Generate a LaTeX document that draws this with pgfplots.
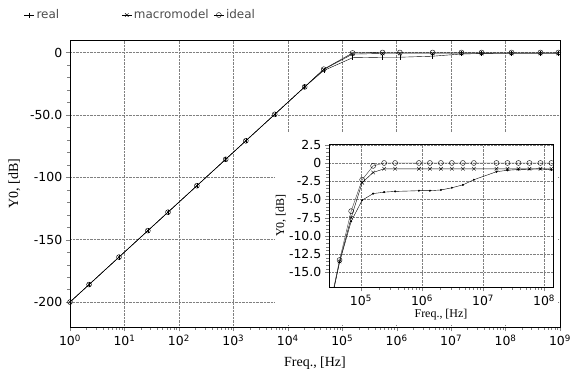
\documentclass[border=0pt]{standalone}
\usepackage{fontspec}
\setmainfont{Liberation Serif}
\newfontfamily\dv{DejaVu Sans}
\usepackage{pgfplots}
\pgfplotsset{compat=1.18}
\newcommand\pw[1]{10\textsuperscript{#1}}

\begin{document}
\begin{tikzpicture}
\useasboundingbox (0bp,0bp) rectangle (571bp,374bp);
\begin{semilogxaxis}[
  at={(70bp,47bp)}, anchor=south west, scale only axis,
  width=490bp, height=287bp,
  xmin=1, xmax=1e9, ymin=-220, ymax=10,
  xtick={1,10,100,1000,1e4,1e5,1e6,1e7,1e8,1e9},
  xticklabels={\pw{0},\pw{1},\pw{2},\pw{3},\pw{4},\pw{5},\pw{6},\pw{7},\pw{8},\pw{9}},
  ytick={-200,-150,-100,-50,0},
  yticklabels={-200,-150,-100,-50.0,0},
  minor y tick num=4,
  tick align=outside, xtick pos=left, ytick pos=left,
  grid=major, major grid style={gray, densely dotted},
  ticklabel style={font=\dv\fontsize{12.5}{14}\selectfont},
  xlabel={Freq., [Hz]}, ylabel={Y0, [dB]},
  label style={font=\fontsize{14}{16}\selectfont},
  xlabel style={yshift=-4bp},
  ylabel style={yshift=3bp},
  legend columns=3,
  legend image code/.code={\draw[mark repeat=2,mark phase=2,#1] plot coordinates {(0bp,0bp) (5bp,0bp) (10bp,0bp)};},
  legend style={at={(-0.1,1.087)}, anchor=west, draw=none, fill=none,
    font=\dv\fontsize{12}{14}\selectfont, text=gray!60!black,
    /tikz/every even column/.append style={column sep=3bp}},
]
\addplot[black, mark=|, mark size=2.5] coordinates {
(1,-200) (2.24,-186) (7.94,-164) (26.9,-142.8) (63.1,-128) (214,-106.8)
(724,-85.6) (1698,-70.8) (5754,-49.6) (20417,-27.6) (45709,-14.5)
(154882,-4.2) (549541,-3.8) (1.148e6,-3.8) (4.571e6,-3.0) (1.549e7,-1.2)
(3.631e7,-0.9) (1.288e8,-0.8) (4.365e8,-0.8) (9.33e8,-0.8)};
\addlegendentry{\makebox[80bp][l]{real}}
\addplot[black, mark=x, mark size=2.5] coordinates {
(1,-200) (2.24,-186) (7.94,-164) (26.9,-142.8) (63.1,-128) (214,-106.8)
(724,-85.6) (1698,-70.8) (5754,-49.6) (20417,-27.6) (45709,-13.6)
(154882,-1.3) (549541,-0.8) (1.148e6,-0.8) (4.571e6,-0.8) (1.549e7,-0.8)
(3.631e7,-0.8) (1.288e8,-0.8) (4.365e8,-0.8) (9.33e8,-0.8)};
\addlegendentry{macromodel}
\addplot[black, mark=o, mark size=2.5] coordinates {
(1,-200) (2.24,-186) (7.94,-164) (26.9,-142.8) (63.1,-128) (214,-106.8)
(724,-85.6) (1698,-70.8) (5754,-49.6) (20417,-27.6) (45709,-13.4)
(154882,-0.4) (549541,0) (1.148e6,0) (4.571e6,0) (1.549e7,0)
(3.631e7,0) (1.288e8,0) (4.365e8,0) (9.33e8,0)};
\addlegendentry{ideal}
\end{semilogxaxis}

\fill[white] (275bp,49bp) rectangle (558bp,241bp);

\begin{semilogxaxis}[
  at={(329bp,87bp)}, anchor=south west, scale only axis,
  width=224bp, height=143bp,
  xmin=3e4, xmax=1.4e8, ymin=-17, ymax=2.6,
  xtick={1e5,1e6,1e7,1e8},
  xticklabels={\pw{5},\pw{6},\pw{7},\pw{8}},
  ytick={-15,-12.5,-10,-7.5,-5,-2.5,0,2.5},
  yticklabels={-15.0,-12.5,-10.0,-7.5,-5.0,-2.5,0,2.5},
  minor y tick num=4,
  tick align=outside, xtick pos=left, ytick pos=left,
  grid=major, major grid style={gray, densely dotted},
  ticklabel style={font=\dv\fontsize{12.5}{14}\selectfont},
  xlabel={Freq., [Hz]}, ylabel={Y0, [dB]},
  label style={font=\fontsize{12}{14}\selectfont},
  xlabel style={yshift=3bp},
  ylabel style={at={(axis description cs:-0.215,0.5)}, anchor=center},
]
\addplot[black, mark=*, mark size=0.8] coordinates {
(31623,-19.5) (44668,-13.6) (69183,-8.0) (104713,-5.1) (158489,-4.2)
(239883,-4.0) (363078,-3.9) (891251,-3.8) (1.349e6,-3.8) (2.042e6,-3.7)
(3.09e6,-3.4) (4.677e6,-3.0) (7.079e6,-2.3) (1.66e7,-1.2) (2.512e7,-1.0)
(3.802e7,-0.9) (5.754e7,-0.85) (8.71e7,-0.8) (1.318e8,-0.95)};
\addplot[black, mark=x, mark size=2.5] coordinates {
(31623,-19.5) (44668,-13.5) (69183,-7.5) (104713,-2.7) (158489,-1.3)
(239883,-0.8) (363078,-0.8) (891251,-0.8) (1.349e6,-0.8) (2.042e6,-0.8)
(3.09e6,-0.8) (4.677e6,-0.8) (7.079e6,-0.8) (1.66e7,-0.8) (2.512e7,-0.8)
(3.802e7,-0.8) (5.754e7,-0.8) (8.71e7,-0.8) (1.318e8,-0.8)};
\addplot[black!75, mark=o, mark size=2.5, mark options={black}] coordinates {
(31623,-19.3) (44668,-13.3) (69183,-6.6) (104713,-2.3) (158489,-0.4)
(239883,0) (363078,0) (891251,0) (1.349e6,0) (2.042e6,0)
(3.09e6,0) (4.677e6,0) (7.079e6,0) (1.66e7,0) (2.512e7,0)
(3.802e7,0) (5.754e7,0) (8.71e7,0) (1.318e8,0)};
\end{semilogxaxis}
\end{tikzpicture}
\end{document}
